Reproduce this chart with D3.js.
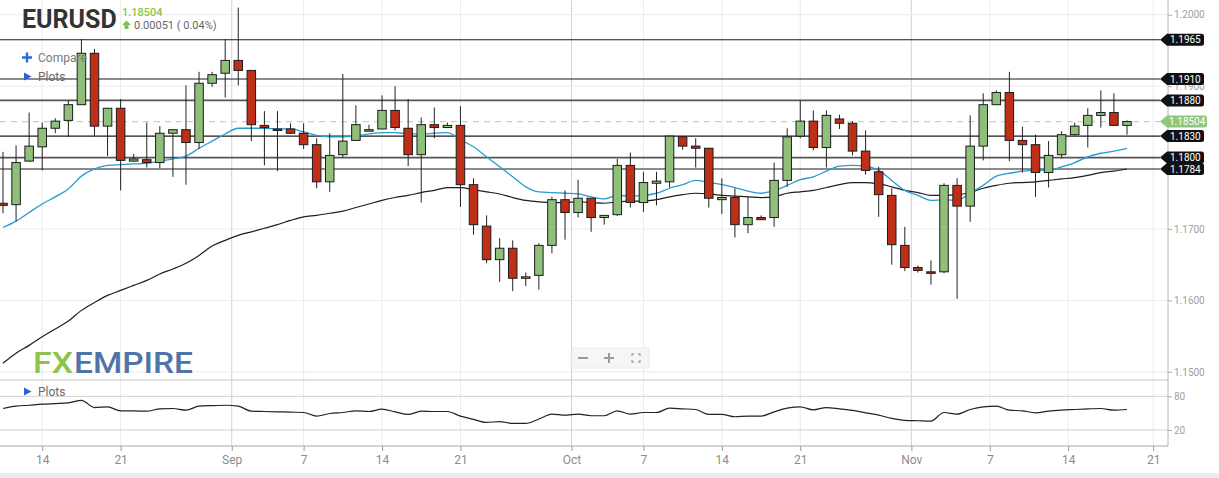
<!DOCTYPE html>
<html>
<head>
<meta charset="utf-8">
<script src="https://cdn.jsdelivr.net/npm/d3@7"></script>
<style>
  body { margin: 0; background: #fff; }
  svg { display: block; font-family: Roboto, "Noto Sans", sans-serif; }
</style>
</head>
<body>
<div id="chart"></div>
<script>
// EURUSD daily candles, 11 Aug - 19 Nov 2020 (Sunday sessions included, Saturdays skipped)
const sessions = d3.timeDay.range(new Date(2020, 7, 11), new Date(2020, 10, 20))
    .filter((d) => d.getDay() !== 6);

const open = [
    1.1736, 1.1734, 1.1795, 1.1815, 1.1841, 1.1852, 1.1874, 1.1946, 1.1844, 1.1869,
    1.1795, 1.1797, 1.1793, 1.1834, 1.1839, 1.1821, 1.1904, 1.1918, 1.1936, 1.1922,
    1.1845, 1.1840, 1.1840, 1.1834, 1.1818, 1.1766, 1.1804, 1.1824, 1.1837, 1.1840,
    1.1866, 1.1841, 1.1804, 1.1846, 1.1842, 1.1845, 1.1762, 1.1704, 1.1657, 1.1673,
    1.1631, 1.1635, 1.1677, 1.1741, 1.1723, 1.1743, 1.1716, 1.1720, 1.1789, 1.1737,
    1.1764, 1.1766, 1.1829, 1.1816, 1.1813, 1.1741, 1.1744, 1.1706, 1.1716, 1.1716,
    1.1768, 1.1830, 1.1851, 1.1814, 1.1854, 1.1848, 1.1809, 1.1780, 1.1747, 1.1677,
    1.1646, 1.1640, 1.1640, 1.1761, 1.1732, 1.1816, 1.1874, 1.1891, 1.1824, 1.1818,
    1.1779, 1.1804, 1.1832, 1.1845, 1.1859, 1.1863, 1.1845,
];
const high = [
    1.1808, 1.1817, 1.1863, 1.1849, 1.1855, 1.1880, 1.1966, 1.1952, 1.1869, 1.1882,
    1.1805, 1.1849, 1.1844, 1.1839, 1.1901, 1.1920, 1.1920, 1.1966, 1.2010, 1.1922,
    1.1865, 1.1865, 1.1848, 1.1848, 1.1827, 1.1834, 1.1917, 1.1873, 1.1846, 1.1887,
    1.1900, 1.1882, 1.1856, 1.1870, 1.1849, 1.1872, 1.1771, 1.1719, 1.1687, 1.1684,
    1.1639, 1.1680, 1.1745, 1.1754, 1.1769, 1.1743, 1.1719, 1.1798, 1.1807, 1.1780,
    1.1780, 1.1830, 1.1829, 1.1827, 1.1813, 1.1771, 1.1757, 1.1745, 1.1719, 1.1793,
    1.1841, 1.1880, 1.1866, 1.1866, 1.1860, 1.1851, 1.1838, 1.1787, 1.1757, 1.1703,
    1.1649, 1.1656, 1.1764, 1.1771, 1.1859, 1.1890, 1.1894, 1.1920, 1.1843, 1.1832,
    1.1823, 1.1837, 1.1849, 1.1869, 1.1894, 1.1890, 1.1852,
];
const low = [
    1.1722, 1.1711, 1.1794, 1.1782, 1.1834, 1.1829, 1.1874, 1.1830, 1.1802, 1.1754,
    1.1794, 1.1786, 1.1785, 1.1773, 1.1762, 1.1812, 1.1899, 1.1884, 1.1901, 1.1823,
    1.1789, 1.1781, 1.1833, 1.1812, 1.1757, 1.1752, 1.1800, 1.1824, 1.1837, 1.1840,
    1.1838, 1.1788, 1.1737, 1.1827, 1.1842, 1.1731, 1.1692, 1.1652, 1.1626, 1.1613,
    1.1620, 1.1615, 1.1666, 1.1685, 1.1716, 1.1696, 1.1706, 1.1718, 1.1730, 1.1724,
    1.1733, 1.1758, 1.1811, 1.1786, 1.1730, 1.1721, 1.1688, 1.1694, 1.1713, 1.1703,
    1.1759, 1.1827, 1.1810, 1.1786, 1.1840, 1.1803, 1.1776, 1.1717, 1.1650, 1.1641,
    1.1639, 1.1622, 1.1638, 1.1602, 1.1710, 1.1796, 1.1874, 1.1795, 1.1779, 1.1745,
    1.1758, 1.1799, 1.1831, 1.1814, 1.1842, 1.1845, 1.1832,
];
const close = [
    1.1733, 1.1793, 1.1816, 1.1841, 1.1851, 1.1874, 1.1946, 1.1844, 1.1869, 1.1796,
    1.1798, 1.1793, 1.1834, 1.1839, 1.1821, 1.1904, 1.1916, 1.1936, 1.1922, 1.1846,
    1.1842, 1.1838, 1.1834, 1.1818, 1.1766, 1.1803, 1.1823, 1.1846, 1.1839, 1.1866,
    1.1842, 1.1804, 1.1846, 1.1842, 1.1845, 1.1762, 1.1706, 1.1657, 1.1673, 1.1631,
    1.1633, 1.1677, 1.1741, 1.1723, 1.1743, 1.1716, 1.1719, 1.1789, 1.1737, 1.1765,
    1.1767, 1.1830, 1.1816, 1.1813, 1.1743, 1.1744, 1.1706, 1.1716, 1.1713, 1.1768,
    1.1829, 1.1851, 1.1814, 1.1859, 1.1848, 1.1809, 1.1782, 1.1748, 1.1678, 1.1646,
    1.1642, 1.1638, 1.1761, 1.1732, 1.1816, 1.1874, 1.1891, 1.1824, 1.1818, 1.1779,
    1.1803, 1.1832, 1.1844, 1.1859, 1.1863, 1.1845, 1.18504,
];

// moving averages (blue = fast, black = slow)
const maFast = [
    1.1702, 1.1711, 1.1723, 1.1735, 1.1745, 1.1756, 1.1774, 1.1784, 1.1789, 1.1790,
    1.1791, 1.1792, 1.1795, 1.1798, 1.1802, 1.1813, 1.1823, 1.1833, 1.1841, 1.1841,
    1.1841, 1.1840, 1.1840, 1.1836, 1.1831, 1.1829, 1.1829, 1.1830, 1.1833, 1.1835,
    1.1835, 1.1833, 1.1833, 1.1834, 1.1835, 1.1825, 1.1815, 1.1801, 1.1787, 1.1773,
    1.1759, 1.1752, 1.1751, 1.1750, 1.1749, 1.1745, 1.1742, 1.1747, 1.1746, 1.1747,
    1.1750, 1.1757, 1.1762, 1.1768, 1.1765, 1.1762, 1.1758, 1.1753, 1.1750, 1.1754,
    1.1761, 1.1769, 1.1773, 1.1781, 1.1788, 1.1789, 1.1788, 1.1782, 1.1768, 1.1754,
    1.1747, 1.1740, 1.1741, 1.1740, 1.1750, 1.1761, 1.1774, 1.1778, 1.1781, 1.1782,
    1.1782, 1.1787, 1.1793, 1.1801, 1.1806, 1.1809, 1.1813,
];
const maSlow = [
    1.1512, 1.1526, 1.1537, 1.1549, 1.1560, 1.1571, 1.1586, 1.1597, 1.1607, 1.1614,
    1.1621, 1.1628, 1.1637, 1.1644, 1.1652, 1.1663, 1.1676, 1.1684, 1.1691, 1.1696,
    1.1701, 1.1706, 1.1712, 1.1717, 1.1719, 1.1722, 1.1725, 1.1730, 1.1735, 1.1740,
    1.1744, 1.1747, 1.1751, 1.1754, 1.1758, 1.1758, 1.1755, 1.1752, 1.1749, 1.1744,
    1.1740, 1.1738, 1.1737, 1.1737, 1.1738, 1.1737, 1.1736, 1.1738, 1.1739, 1.1739,
    1.1741, 1.1745, 1.1748, 1.1750, 1.1749, 1.1747, 1.1746, 1.1745, 1.1744, 1.1745,
    1.1750, 1.1752, 1.1754, 1.1758, 1.1762, 1.1765, 1.1765, 1.1763, 1.1759, 1.1754,
    1.1751, 1.1747, 1.1747, 1.1748, 1.1751, 1.1757, 1.1761, 1.1764, 1.1765, 1.1766,
    1.1768, 1.1770, 1.1772, 1.1775, 1.1779, 1.1781, 1.1784,
];

// lower "Plots" pane oscillator
const oscillator = [
    58.3, 62.4, 64.1, 65.9, 67.0, 68.2, 72.9, 60.0, 61.2, 54.1,
    54.0, 53.5, 57.7, 58.3, 55.3, 62.4, 63.5, 64.1, 62.4, 53.5,
    52.9, 52.4, 51.8, 51.2, 44.7, 49.4, 51.2, 54.1, 52.9, 57.0,
    52.4, 47.7, 53.5, 52.9, 52.9, 44.7, 38.9, 33.6, 34.8, 31.8,
    31.8, 39.5, 48.3, 46.5, 48.3, 45.4, 45.4, 54.1, 48.3, 51.2,
    51.2, 58.8, 57.7, 56.5, 47.7, 47.7, 43.6, 44.7, 44.7, 52.4,
    58.8, 61.2, 55.9, 60.0, 57.7, 55.0, 50.6, 46.5, 40.6, 37.1,
    36.5, 35.9, 51.2, 48.3, 56.5, 61.2, 62.4, 55.3, 54.1, 50.6,
    53.5, 55.3, 56.5, 57.7, 58.3, 55.3, 56.5,
];

// horizontal support / resistance levels drawn on the chart
const levels = [1.1965, 1.1910, 1.1880, 1.1830, 1.1800, 1.1784];
const heavyLevels = [1.1880, 1.1800];
const lastPrice = 1.18504;
const priceChange = "0.00051 ( 0.04%)";

const priceTicks = [1.15, 1.16, 1.17, 1.18, 1.19, 1.20];
const oscTicks = [20, 80];

// x tick labels and their position in session units
const tickLabels = ["14", "21", "Sep", "7", "14", "21", "Oct", "7", "14", "21", "Nov", "7", "14", "21"];
const tickAt = [3, 9, 17.5, 23, 29, 35, 43.5, 49, 55, 61, 69.5, 75.5, 81.5, 88];
const monthLabels = ["Sep", "Oct", "Nov"];

// --- layout ---------------------------------------------------------------
const W = 1219, H = 478;
const AXIS_X = 1168;
const TAG_X = 1160;
const MAIN_TOP = 0, MAIN_BOTTOM = 380;
const LOWER_BOTTOM = 446;

const svg = d3.select("#chart").append("svg")
    .attr("width", W)
    .attr("height", H);

const x = d3.scaleLinear().domain([0, sessions.length - 1]).range([3, 1127]);
const y = d3.scaleLinear().domain([1.15, 1.20]).range([371.8, 14.7]);
const yOsc = d3.scaleLinear().domain([20, 80]).range([430, 396.3]);
const fmt4 = d3.format(".4f");
const fmt5 = d3.format(".5f");

// vertical grid
svg.append("g")
    .selectAll("line")
    .data(tickAt)
    .enter().append("line")
    .attr("x1", (d) => x(d)).attr("x2", (d) => x(d))
    .attr("y1", MAIN_TOP).attr("y2", LOWER_BOTTOM)
    .attr("stroke", (d, i) => monthLabels.includes(tickLabels[i]) ? "#d2d2d2" : "#ebebeb")
    .attr("stroke-width", 1);

// horizontal price grid
svg.append("g")
    .selectAll("line")
    .data(priceTicks)
    .enter().append("line")
    .attr("x1", 0).attr("x2", AXIS_X)
    .attr("y1", (d) => y(d)).attr("y2", (d) => y(d))
    .attr("stroke", "#ececec");

// pane separator + lower grid
svg.append("line")
    .attr("x1", 0).attr("x2", AXIS_X)
    .attr("y1", MAIN_BOTTOM).attr("y2", MAIN_BOTTOM)
    .attr("stroke", "#c8c8c8");
svg.append("g")
    .selectAll("line")
    .data(oscTicks)
    .enter().append("line")
    .attr("x1", 0).attr("x2", AXIS_X)
    .attr("y1", (d) => yOsc(d)).attr("y2", (d) => yOsc(d))
    .attr("stroke", "#cfcfcf");

// right axis; a label that sits exactly under a level tag is hidden by it
const yAxis = d3.axisRight(y)
    .tickValues(priceTicks)
    .tickFormat((d) => levels.some((v) => Math.abs(v - d) < 1e-9) ? "" : fmt4(d))
    .tickSize(4)
    .tickPadding(2);
const gy = svg.append("g").attr("transform", `translate(${AXIS_X},0)`).call(yAxis);
const oscAxis = d3.axisRight(yOsc).tickValues(oscTicks).tickSize(4).tickPadding(2);
const go = svg.append("g").attr("transform", `translate(${AXIS_X},0)`).call(oscAxis);
[gy, go].forEach((g) => {
    g.select(".domain").remove();
    g.selectAll(".tick line").attr("stroke", "#aaa");
    g.selectAll(".tick text")
        .attr("fill", "#a0a0a0")
        .attr("font-size", "10px")
        .attr("font-family", "Roboto, sans-serif");
});
svg.append("line")
    .attr("x1", AXIS_X).attr("x2", AXIS_X)
    .attr("y1", 0).attr("y2", LOWER_BOTTOM)
    .attr("stroke", "#b4b4b4");

// bottom time axis
const xAxis = d3.axisBottom(x)
    .tickValues(tickAt)
    .tickFormat((d, i) => tickLabels[i])
    .tickSize(5)
    .tickPadding(4);
const gx = svg.append("g").attr("transform", `translate(0,${LOWER_BOTTOM})`).call(xAxis);
gx.select(".domain").remove();
gx.selectAll(".tick line").attr("stroke", "#999");
gx.selectAll(".tick text")
    .attr("fill", "#8c8c8c")
    .attr("font-size", "12px")
    .attr("font-family", "Roboto, sans-serif");
svg.append("line")
    .attr("x1", 0).attr("x2", AXIS_X)
    .attr("y1", LOWER_BOTTOM).attr("y2", LOWER_BOTTOM)
    .attr("stroke", "#a8a8a8");

svg.append("rect")
    .attr("x", 0).attr("y", 473).attr("width", W).attr("height", 5)
    .attr("fill", "#ececec");

// levels
svg.append("g")
    .selectAll("line")
    .data(levels)
    .enter().append("line")
    .attr("x1", 0).attr("x2", TAG_X)
    .attr("y1", (d) => y(d)).attr("y2", (d) => y(d))
    .attr("stroke", (d) => heavyLevels.includes(d) ? "#555" : "#1a1a1a")
    .attr("stroke-width", (d) => heavyLevels.includes(d) ? 1.8 : 1.1);

// last price dashed line
svg.append("line")
    .attr("x1", 0).attr("x2", TAG_X)
    .attr("y1", y(lastPrice)).attr("y2", y(lastPrice))
    .attr("stroke", "#bcdcb0")
    .attr("stroke-width", 1.2)
    .attr("stroke-dasharray", "6,5");

// moving averages
const line = (arr, scale) => d3.line()
    .x((d, i) => x(i))
    .y((d) => scale(d))
    .curve(d3.curveMonotoneX)(arr);

svg.append("path")
    .attr("d", line(maSlow, y))
    .attr("fill", "none")
    .attr("stroke", "#1f1f1f")
    .attr("stroke-width", 1.2);
svg.append("path")
    .attr("d", line(maFast, y))
    .attr("fill", "none")
    .attr("stroke", "#2a9bd0")
    .attr("stroke-width", 1.3);

svg.append("path")
    .attr("d", line(oscillator, yOsc))
    .attr("fill", "none")
    .attr("stroke", "#222")
    .attr("stroke-width", 1.2);

// candles
const BODY_W = 8.5;
const candles = open.map((o, i) => ({ i, o, h: high[i], l: low[i], c: close[i] }));
const cg = svg.append("g").selectAll("g")
    .data(candles)
    .enter().append("g");

cg.append("line")
    .attr("x1", (d) => x(d.i)).attr("x2", (d) => x(d.i))
    .attr("y1", (d) => y(d.h)).attr("y2", (d) => y(d.l))
    .attr("stroke", "#222")
    .attr("stroke-width", 1);

cg.append("rect")
    .attr("x", (d) => x(d.i) - BODY_W / 2)
    .attr("y", (d) => y(Math.max(d.o, d.c)))
    .attr("width", BODY_W)
    .attr("height", (d) => Math.max(1.5, Math.abs(y(d.o) - y(d.c))))
    .attr("fill", (d) => d.c >= d.o ? "#8fbf7a" : "#bf2f18")
    .attr("stroke", "#1c1c1c")
    .attr("stroke-width", 1);

// price tags on the right: arrow point at TAG_X, body out to TAG_X + w
function tagPath(cy, w) {
    const h = 12, r = 2.5;
    return `M${TAG_X},${cy} L${TAG_X + 7},${cy - h / 2} L${TAG_X + w - r},${cy - h / 2}` +
        ` Q${TAG_X + w},${cy - h / 2} ${TAG_X + w},${cy - h / 2 + r}` +
        ` L${TAG_X + w},${cy + h / 2 - r} Q${TAG_X + w},${cy + h / 2} ${TAG_X + w - r},${cy + h / 2}` +
        ` L${TAG_X + 7},${cy + h / 2} Z`;
}
const tags = svg.append("g");
levels.forEach((v) => {
    const cy = y(v);
    tags.append("path").attr("d", tagPath(cy, 44)).attr("fill", "#111");
    tags.append("text")
        .attr("x", TAG_X + 10).attr("y", cy + 3.6)
        .attr("fill", "#fff")
        .attr("font-size", "10px")
        .text(fmt4(v));
});
{
    const cy = y(lastPrice);
    tags.append("path").attr("d", tagPath(cy, 47)).attr("fill", "#8fc77e");
    tags.append("text")
        .attr("x", TAG_X + 9).attr("y", cy + 3.6)
        .attr("fill", "#fff")
        .attr("font-size", "10px")
        .text(fmt5(lastPrice));
}

// header
svg.append("text")
    .attr("x", 22).attr("y", 28)
    .attr("font-size", "25px")
    .attr("font-weight", "bold")
    .attr("fill", "#333")
    .text("EURUSD");
svg.append("text")
    .attr("x", 122).attr("y", 16)
    .attr("font-size", "11px")
    .attr("font-weight", "500")
    .attr("fill", "#8cc63f")
    .text(fmt5(lastPrice));
svg.append("path")
    .attr("d", "M126.5,20.5 L131,25 L128.5,25 L128.5,29 L124.5,29 L124.5,25 L122,25 Z")
    .attr("fill", "#7cc05a");
svg.append("text")
    .attr("x", 134).attr("y", 29)
    .attr("font-size", "11px")
    .attr("fill", "#666")
    .text(priceChange);

// "+ Compare" / "Plots" controls
svg.append("path")
    .attr("d", "M22,57.5 H32 M27,52.5 V62.5")
    .attr("stroke", "#2c6ad6")
    .attr("stroke-width", 2.4);
svg.append("text")
    .attr("x", 38).attr("y", 62)
    .attr("font-size", "12px")
    .attr("fill", "#7a7a7a")
    .text("Compare");
[76.5, 391.5].forEach((cy) => {
    svg.append("path")
        .attr("d", `M24,${cy - 4} L31.5,${cy} L24,${cy + 4} Z`)
        .attr("fill", "#2c62d4");
    svg.append("text")
        .attr("x", 38).attr("y", cy + 4.5)
        .attr("font-size", "12px")
        .attr("fill", "#6a6a6a")
        .text("Plots");
});

// logo
svg.append("text")
    .attr("x", 33).attr("y", 373)
    .attr("font-size", "29px")
    .attr("font-weight", "500")
    .attr("fill", "#8dc449")
    .attr("textLength", 40)
    .attr("lengthAdjust", "spacingAndGlyphs")
    .text("FX");
svg.append("text")
    .attr("x", 74).attr("y", 373)
    .attr("font-size", "29px")
    .attr("font-weight", "500")
    .attr("fill", "#4f74a8")
    .attr("textLength", 119)
    .attr("lengthAdjust", "spacingAndGlyphs")
    .text("EMPIRE");

// zoom controls
const zc = svg.append("g");
zc.append("rect")
    .attr("x", 572).attr("y", 348).attr("width", 77).attr("height", 20)
    .attr("fill", "#f6f6f6").attr("stroke", "#ececec");
zc.append("path")
    .attr("d", "M578,358 H588 M604,358 H614 M609,353 V363")
    .attr("stroke", "#9a9a9a").attr("stroke-width", 2);
zc.append("path")
    .attr("d", "M632,356 V354 H634 M638,354 H640 V356 M640,360 V362 H638 M634,362 H632 V360")
    .attr("fill", "none").attr("stroke", "#a5a5a5").attr("stroke-width", 1.4);
</script>
</body>
</html>
